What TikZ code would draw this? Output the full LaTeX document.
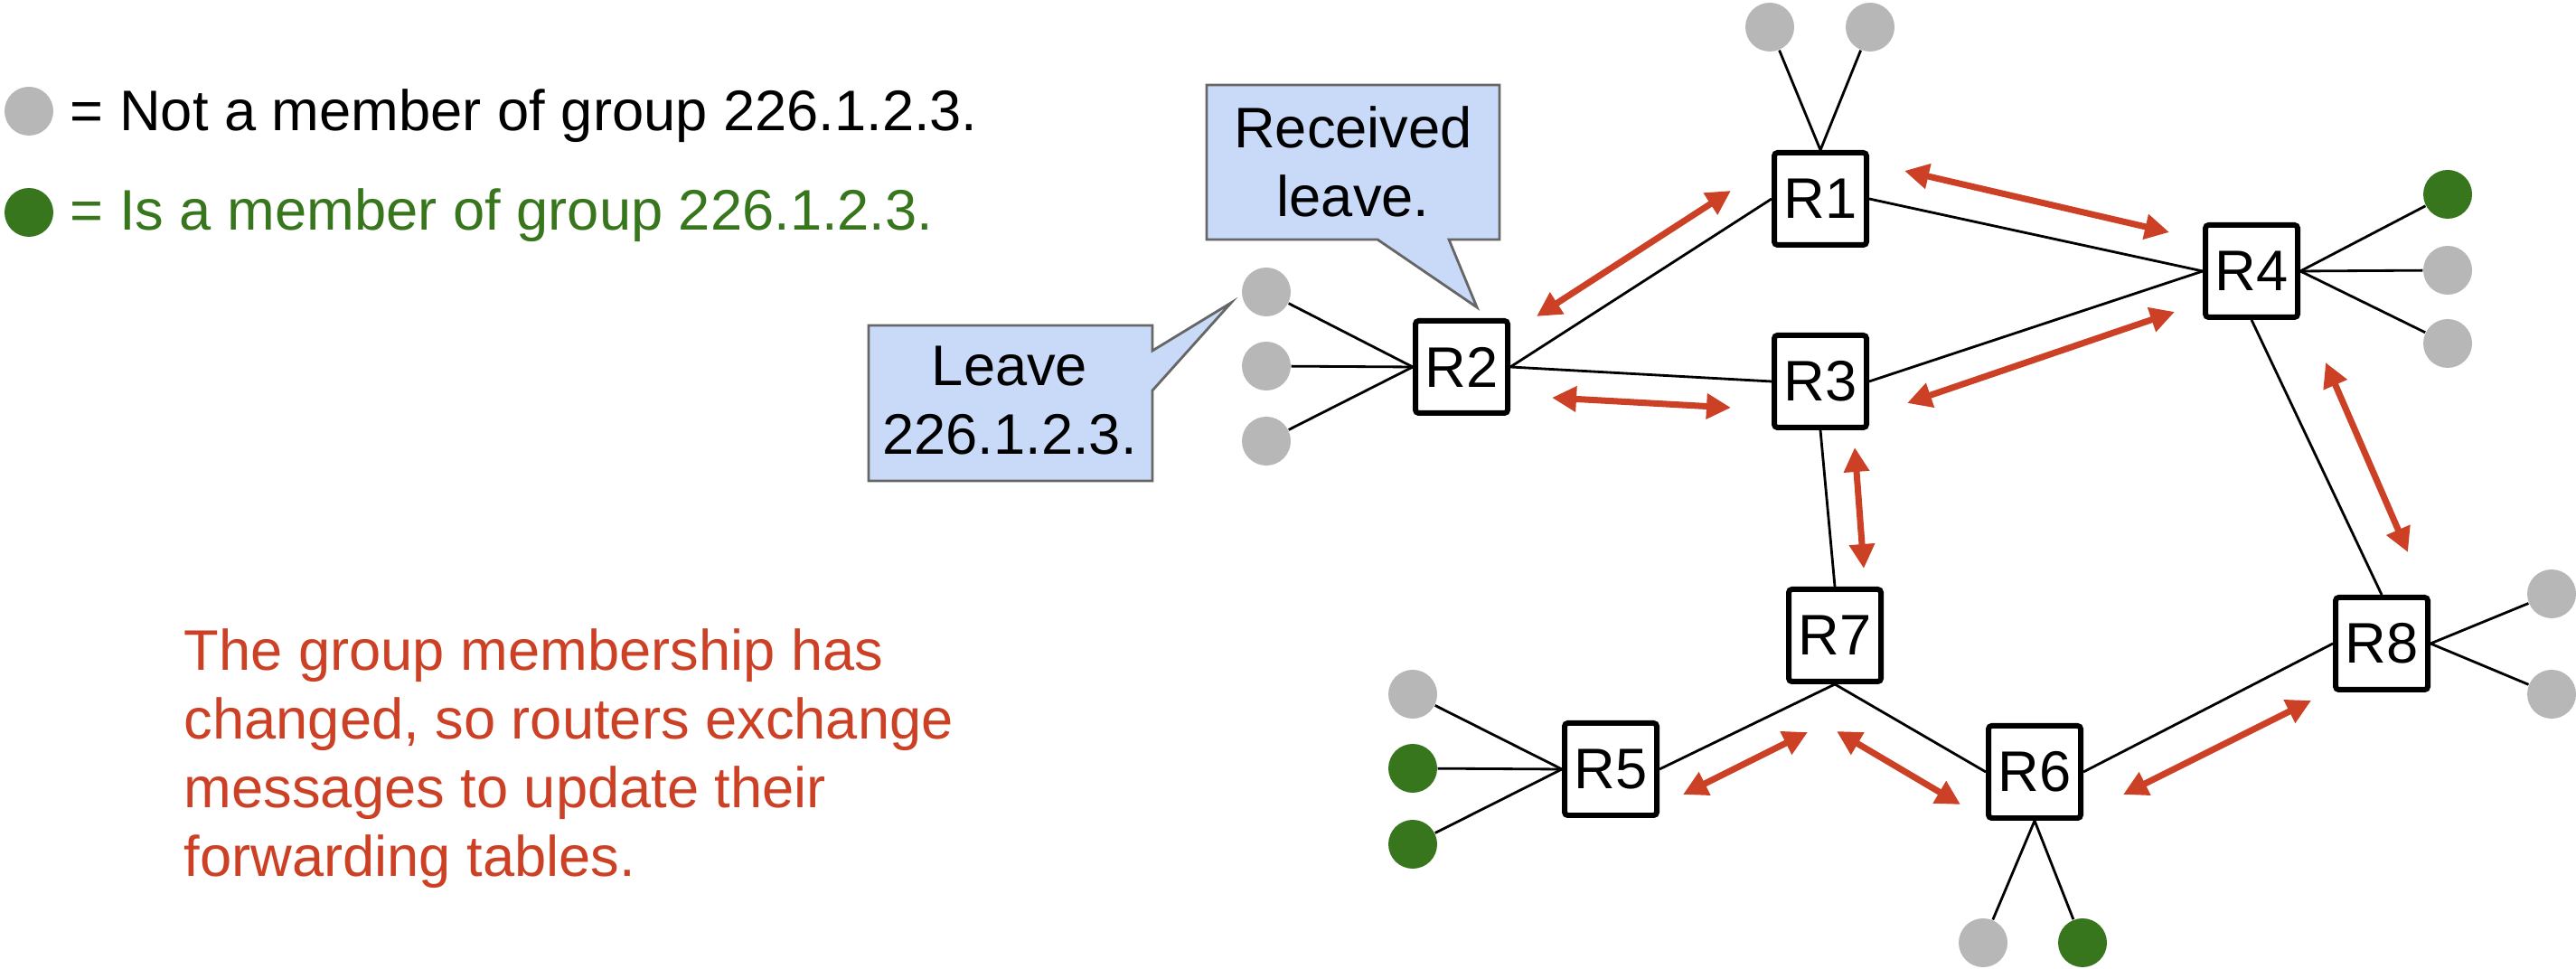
\documentclass[tikz,border=0pt]{standalone}
\usepackage{fontspec}
\setmainfont{Liberation Sans}
\usetikzlibrary{arrows.meta}

\definecolor{msgred}{HTML}{CC4125}
\definecolor{memgreen}{HTML}{38761D}
\definecolor{hostgray}{HTML}{B7B7B7}
\definecolor{notefill}{HTML}{C9DAF8}
\definecolor{noteedge}{HTML}{666666}

\tikzset{
  router/.style={draw, line width=1.7pt, rounded corners=1pt, minimum size=1.02cm, inner sep=0pt},
  host/.style={circle, fill=hostgray, minimum size=0.54cm, inner sep=0pt},
  member/.style={host, fill=memgreen},
  link/.style={line width=0.8pt},
  msg/.style={msgred, line width=2pt, {Triangle[length=2.7mm,width=2.7mm]}-{Triangle[length=2.7mm,width=2.7mm]}},
  note/.style={fill=notefill, draw=noteedge, line width=0.8pt},
}

\begin{document}
\begin{tikzpicture}[font=\fontsize{18pt}{21.6pt}\selectfont]
  \useasboundingbox (0, 0) rectangle (28.5, 10.72);

  % legend
  \node (keynon) [host] at (0.32, 9.49) {};
  \node (keynontext) [anchor=base west, inner sep=0pt] at (0.77, 9.27) {= Not a member of group 226.1.2.3.};
  \node (keymem) [member] at (0.32, 8.37) {};
  \node (keymemtext) [anchor=base west, inner sep=0pt, text=memgreen] at (0.77, 8.17) {= Is a member of group 226.1.2.3.};

  % callouts
  \draw[note] (13.35, 9.78) -- (16.59, 9.78) -- (16.59, 8.07) -- (16.03, 8.07) -- (16.34, 7.32)
    -- (15.24, 8.07) -- (13.35, 8.07) -- cycle;
  \node (recv) [align=center, inner sep=0pt] at (14.97, 8.935) {Received\\leave.};
  \draw[note] (9.61, 7.12) -- (12.75, 7.12) -- (12.75, 6.84) -- (13.62, 7.37) -- (12.75, 6.40)
    -- (12.75, 5.40) -- (9.61, 5.40) -- cycle;
  \node (leave) [align=center, inner sep=0pt] at (11.17, 6.285) {Leave\\226.1.2.3.};

  % routers
  \node (R1) [router] at (20.14, 8.52) {R1};
  \node (R2) [router] at (16.17, 6.66) {R2};
  \node (R3) [router] at (20.14, 6.50) {R3};
  \node (R4) [router] at (24.91, 7.72) {R4};
  \node (R5) [router] at (17.82, 2.21) {R5};
  \node (R6) [router] at (22.51, 2.18) {R6};
  \node (R7) [router] at (20.30, 3.69) {R7};
  \node (R8) [router] at (26.35, 3.60) {R8};

  % hosts
  \node (h1a) [host] at (19.58, 10.42) {};
  \node (h1b) [host] at (20.69, 10.42) {};
  \node (h2a) [host] at (14.01, 7.49) {};
  \node (h2b) [host] at (14.01, 6.67) {};
  \node (h2c) [host] at (14.01, 5.84) {};
  \node (h4a) [member] at (27.08, 8.57) {};
  \node (h4b) [host] at (27.08, 7.73) {};
  \node (h4c) [host] at (27.08, 6.92) {};
  \node (h5a) [host] at (15.63, 3.04) {};
  \node (h5b) [member] at (15.63, 2.22) {};
  \node (h5c) [member] at (15.63, 1.38) {};
  \node (h6a) [host] at (21.94, 0.29) {};
  \node (h6b) [member] at (23.04, 0.29) {};
  \node (h8a) [host] at (28.23, 4.15) {};
  \node (h8b) [host] at (28.23, 3.04) {};

  % links
  \draw[link] (R2.east) -- (R1.west);
  \draw[link] (R2.east) -- (R3.west);
  \draw[link] (R1.east) -- (R4.west);
  \draw[link] (R3.east) -- (R4.west);
  \draw[link] (R3.south) -- (R7.north);
  \draw[link] (R4.south) -- (R8.north);
  \draw[link] (R7.south) -- (R5.east);
  \draw[link] (R7.south) -- (R6.west);
  \draw[link] (R6.east) -- (R8.west);

  \draw[link] (h1a) -- (R1.north);
  \draw[link] (h1b) -- (R1.north);
  \draw[link] (h2a) -- (R2.west);
  \draw[link] (h2b) -- (R2.west);
  \draw[link] (h2c) -- (R2.west);
  \draw[link] (h4a) -- (R4.east);
  \draw[link] (h4b) -- (R4.east);
  \draw[link] (h4c) -- (R4.east);
  \draw[link] (h5a) -- (R5.west);
  \draw[link] (h5b) -- (R5.west);
  \draw[link] (h5c) -- (R5.west);
  \draw[link] (h6a) -- (R6.south);
  \draw[link] (h6b) -- (R6.south);
  \draw[link] (h8a) -- (R8.east);
  \draw[link] (h8b) -- (R8.east);

  % membership messages
  \draw[msg] (17.00, 7.22) -- (19.15, 8.61);
  \draw[msg] (21.07, 8.83) -- (24.00, 8.15);
  \draw[msg] (17.17, 6.32) -- (19.15, 6.21);
  \draw[msg] (21.10, 6.26) -- (24.06, 7.27);
  \draw[msg] (20.52, 5.77) -- (20.62, 4.43);
  \draw[msg] (25.73, 6.71) -- (26.64, 4.61);
  \draw[msg] (18.62, 1.93) -- (20.00, 2.62);
  \draw[msg] (20.32, 2.63) -- (21.69, 1.82);
  \draw[msg] (23.49, 1.93) -- (25.57, 2.97);

  \node (summary) [anchor=north west, align=left, inner sep=0pt, text=msgred] at (2.03, 3.77)
    {The group membership has\\changed, so routers exchange\\messages to update their\\forwarding tables.};
\end{tikzpicture}
\end{document}
